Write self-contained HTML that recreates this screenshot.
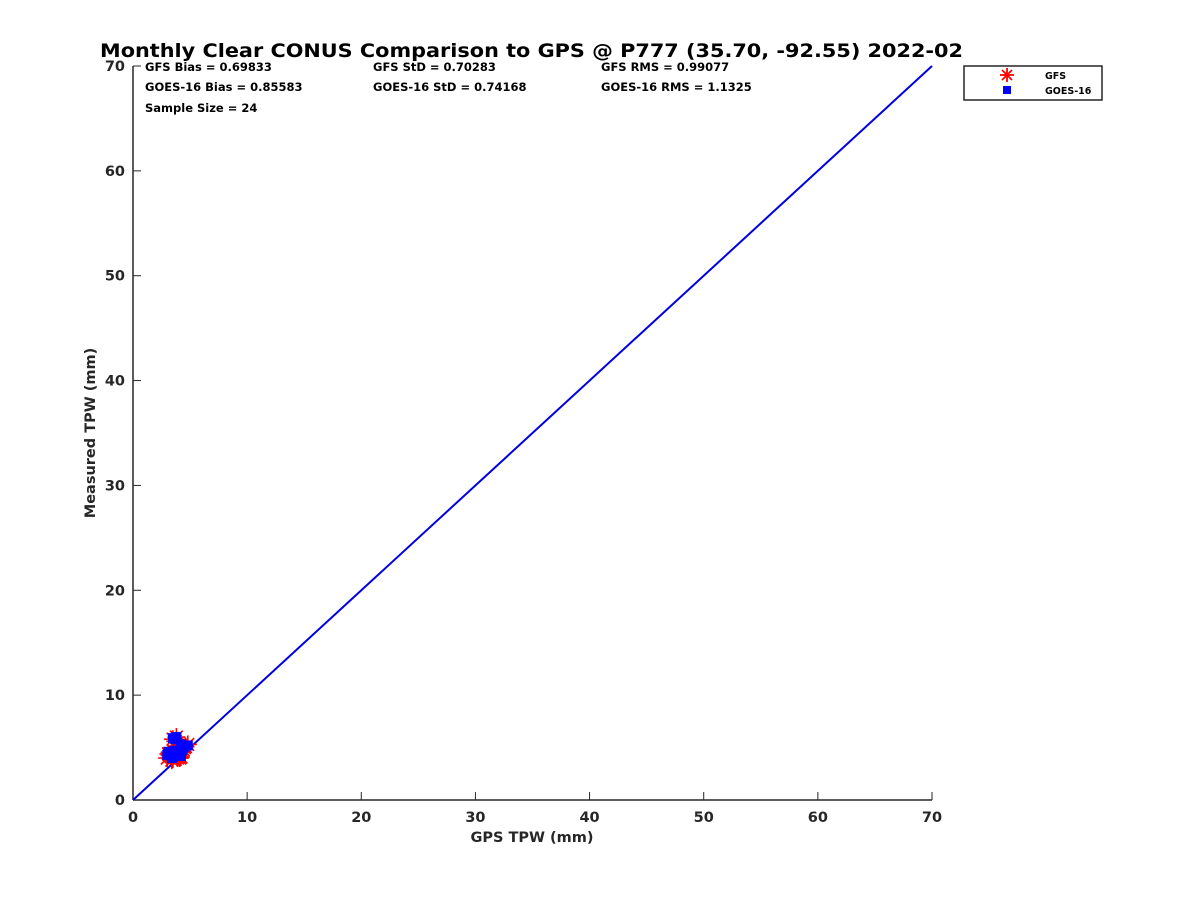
<!DOCTYPE html>
<html><head><meta charset="utf-8"><style>
body{margin:0;background:#fff;font-family:"DejaVu Sans",sans-serif}
svg text{font-family:"DejaVu Sans",sans-serif;font-weight:bold;fill:#262626}
</style></head><body>
<svg width="1200" height="900" id="svg">
<text x="100" y="57" font-size="19" textLength="863" lengthAdjust="spacingAndGlyphs" style="fill:#000">Monthly Clear CONUS Comparison to GPS @ P777 (35.70, -92.55) 2022-02</text>
<g font-size="11.5">
<text x="145" y="71" style="fill:#000">GFS Bias = 0.69833</text>
<text x="373" y="71" style="fill:#000">GFS StD = 0.70283</text>
<text x="601" y="71" style="fill:#000">GFS RMS = 0.99077</text>
<text x="145" y="91" style="fill:#000">GOES-16 Bias = 0.85583</text>
<text x="373" y="91" style="fill:#000">GOES-16 StD = 0.74168</text>
<text x="601" y="91" style="fill:#000">GOES-16 RMS = 1.1325</text>
<text x="145" y="112" style="fill:#000">Sample Size = 24</text>
</g>
<g id="axes"></g>
<g id="marks"></g>
<g>
<rect x="964" y="66" width="138" height="34" fill="#fff" stroke="#262626" stroke-width="1.5"/>
<g stroke="#f00" stroke-width="1.8">
<line x1="1000" y1="75" x2="1014" y2="75"/><line x1="1007" y1="68" x2="1007" y2="82"/>
<line x1="1002" y1="70" x2="1012" y2="80"/><line x1="1002" y1="80" x2="1012" y2="70"/>
</g>
<text x="1045" y="79" font-size="9.5" style="fill:#000">GFS</text>
<rect x="1003" y="86" width="8" height="8" fill="#00f"/>
<text x="1045" y="94" font-size="9.5" style="fill:#000">GOES-16</text>
</g>
<text x="532" y="842" font-size="14.5" text-anchor="middle">GPS TPW (mm)</text>
<text transform="translate(95,433) rotate(-90)" font-size="14.5" text-anchor="middle">Measured TPW (mm)</text>
</svg>
<script>
const ticks=[0,10,20,30,40,50,60,70];
const tickLabels=["0","10","20","30","40","50","60","70"];
const gpsX=[3.0,3.2,3.4,3.5,3.6,3.8,3.9,4.0,4.1,4.2,4.3,4.5,4.8,3.3,3.7,4.0,3.5,3.1,4.4,4.6,3.9,3.6,4.2,3.4];
const gfsY=[4.0,4.3,4.1,5.8,4.4,6.0,4.2,4.5,4.0,5.2,4.6,5.0,5.3,4.2,5.6,4.3,3.9,4.4,4.8,5.1,4.0,4.5,4.1,3.8];
const goesY=[4.3,4.5,4.2,5.9,4.6,6.0,4.4,4.7,4.2,5.3,4.8,5.1,5.2,4.4,5.8,4.5,4.1,4.6,5.0,5.2,4.3,4.7,4.2,4.0];
const lineX=[0,70];
const X=v=>133+v*(932-133)/70, Y=v=>800-v*(800-66)/70;
const ns="http://www.w3.org/2000/svg";
const ax=document.getElementById('axes'), mk=document.getElementById('marks');
function el(t,a,p){const e=document.createElementNS(ns,t);for(const k in a)e.setAttribute(k,a[k]);p.appendChild(e);return e;}
let l=el('line',{x1:133,y1:800,x2:932,y2:800,stroke:'#262626','stroke-width':1.5},ax);


l=el('line',{x1:133,y1:66,x2:133,y2:800,stroke:'#262626','stroke-width':1.5},ax);


ticks.forEach((t,i)=>{
 el('line',{x1:X(t),y1:800,x2:X(t),y2:792,stroke:'#262626'},ax);
 el('line',{x1:133,y1:Y(t),x2:141,y2:Y(t),stroke:'#262626'},ax);
 let a=el('text',{x:X(t),y:822,'font-size':14.5,'text-anchor':'middle'},ax);a.textContent=tickLabels[i];
 
 
 let b=el('text',{x:125,y:Y(t)+5,'font-size':14.5,'text-anchor':'end'},ax);b.textContent=tickLabels[i];
 
 
});
let ln=el('line',{x1:X(lineX[0]),y1:Y(lineX[0]),x2:X(lineX[1]),y2:Y(lineX[1]),stroke:'#0000e0','stroke-width':2},mk);


gpsX.forEach((x,i)=>{
 const cx=X(x),cy=Y(gfsY[i]);
 const g=el('g',{stroke:'#f00','stroke-width':1.6},mk);
 
 
 for(let k=0;k<4;k++){const an=k*Math.PI/4;el('line',{x1:cx-9*Math.cos(an),y1:cy-9*Math.sin(an),x2:cx+9*Math.cos(an),y2:cy+9*Math.sin(an)},g);}
});
gpsX.forEach((x,i)=>{
 const r=el('rect',{x:X(x)-5,y:Y(goesY[i])-5,width:10,height:10,fill:'#00f'},mk);
 
 
});
</script>
</body></html>
